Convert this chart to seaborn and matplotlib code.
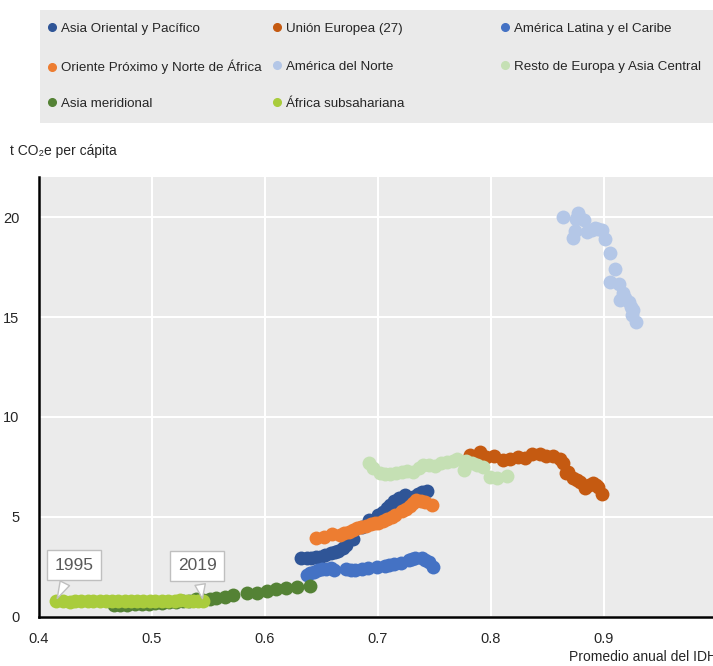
import numpy as np
import pandas as pd
import seaborn as sns
import matplotlib
matplotlib.use("Agg")
import matplotlib.pyplot as plt
from matplotlib.patches import Rectangle
from matplotlib.lines import Line2D

# Datos (1995-2019), IDH medio y t CO2e per capita
asia_or_x = [0.632, 0.637, 0.641, 0.645, 0.649, 0.653, 0.658, 0.662, 0.665, 0.669, 0.672, 0.678, 0.686,
             0.692, 0.700, 0.704, 0.708, 0.711, 0.714, 0.719, 0.724, 0.731, 0.735, 0.739, 0.743]
asia_or_y = [2.93, 2.95, 2.97, 3.00, 3.02, 3.10, 3.18, 3.25, 3.30, 3.45, 3.60, 3.88, 4.52,
             4.85, 5.10, 5.25, 5.43, 5.60, 5.80, 5.95, 6.10, 6.00, 6.15, 6.27, 6.30]

ue_x = [0.781, 0.790, 0.796, 0.803, 0.811, 0.817, 0.824, 0.830, 0.836, 0.843, 0.849, 0.855, 0.861,
        0.864, 0.866, 0.868, 0.873, 0.876, 0.879, 0.883, 0.887, 0.890, 0.893, 0.895, 0.898]
ue_y = [8.10, 8.27, 8.02, 8.05, 7.85, 7.88, 8.02, 7.93, 8.15, 8.13, 8.05, 8.05, 7.88,
        7.68, 7.18, 7.27, 6.93, 6.85, 6.77, 6.43, 6.60, 6.68, 6.60, 6.52, 6.13]

latam_x = [0.637, 0.640, 0.643, 0.647, 0.650, 0.654, 0.658, 0.661, 0.672, 0.676, 0.680, 0.686, 0.691,
           0.699, 0.706, 0.710, 0.714, 0.720, 0.727, 0.730, 0.733, 0.739, 0.742, 0.745, 0.749]
latam_y = [2.10, 2.18, 2.27, 2.33, 2.38, 2.42, 2.43, 2.35, 2.38, 2.36, 2.35, 2.38, 2.47,
           2.52, 2.55, 2.58, 2.63, 2.72, 2.85, 2.90, 2.93, 2.93, 2.85, 2.77, 2.50]

mena_x = [0.645, 0.652, 0.659, 0.666, 0.670, 0.674, 0.678, 0.681, 0.685, 0.689, 0.694, 0.697, 0.700,
          0.704, 0.708, 0.712, 0.715, 0.721, 0.725, 0.728, 0.731, 0.734, 0.738, 0.742, 0.748]
mena_y = [3.97, 4.02, 4.13, 4.10, 4.18, 4.27, 4.35, 4.43, 4.50, 4.55, 4.63, 4.68, 4.72,
          4.80, 4.88, 5.00, 5.10, 5.30, 5.42, 5.55, 5.70, 5.85, 5.80, 5.77, 5.60]

nam_x = [0.864, 0.875, 0.877, 0.878, 0.882, 0.874, 0.873, 0.885, 0.889, 0.892, 0.895, 0.898, 0.901,
         0.905, 0.910, 0.905, 0.913, 0.917, 0.914, 0.919, 0.922, 0.924, 0.926, 0.925, 0.928]
nam_y = [20.0, 19.9, 20.2, 20.0, 19.85, 19.3, 18.93, 19.27, 19.35, 19.43, 19.40, 19.35, 18.88,
         18.2, 17.38, 16.77, 16.63, 16.18, 15.85, 15.95, 15.77, 15.50, 15.35, 15.10, 14.77]

resto_x = [0.692, 0.696, 0.702, 0.706, 0.711, 0.716, 0.721, 0.726, 0.731, 0.736, 0.740, 0.745, 0.750,
           0.756, 0.761, 0.766, 0.770, 0.776, 0.778, 0.783, 0.788, 0.793, 0.799, 0.805, 0.814]
resto_y = [7.72, 7.43, 7.18, 7.15, 7.13, 7.20, 7.27, 7.28, 7.27, 7.45, 7.60, 7.58, 7.55,
           7.68, 7.77, 7.82, 7.88, 7.35, 7.80, 7.68, 7.60, 7.52, 7.00, 6.93, 7.05]

asia_mer_x = [0.466, 0.472, 0.478, 0.485, 0.491, 0.497, 0.503, 0.509, 0.515, 0.521, 0.527, 0.533, 0.539,
              0.545, 0.551, 0.557, 0.565, 0.572, 0.584, 0.593, 0.602, 0.610, 0.619, 0.628, 0.640]
asia_mer_y = [0.58, 0.60, 0.62, 0.64, 0.65, 0.67, 0.69, 0.71, 0.73, 0.75, 0.78, 0.82, 0.88,
              0.86, 0.90, 0.93, 1.00, 1.10, 1.18, 1.22, 1.30, 1.38, 1.43, 1.48, 1.53]

africa_x = [0.415, 0.421, 0.427, 0.432, 0.437, 0.443, 0.448, 0.454, 0.459, 0.465, 0.470, 0.476, 0.481,
            0.487, 0.492, 0.498, 0.503, 0.509, 0.514, 0.520, 0.525, 0.531, 0.536, 0.541, 0.545]
africa_y = [0.80, 0.78, 0.77, 0.79, 0.80, 0.81, 0.82, 0.80, 0.79, 0.81, 0.80, 0.78, 0.79,
            0.80, 0.79, 0.80, 0.81, 0.82, 0.80, 0.82, 0.83, 0.80, 0.79, 0.78, 0.78]

regiones = ["Asia Oriental y Pacífico", "Unión Europea (27)", "América Latina y el Caribe",
            "Oriente Próximo y Norte de África", "América del Norte", "Resto de Europa y Asia Central",
            "Asia meridional", "África subsahariana"]
colores = ["#2f5597", "#c55a11", "#4472c4", "#ed7d31", "#b4c7e7", "#c5e0b4", "#548235", "#a9cc3c"]

series_x = [asia_or_x, ue_x, latam_x, mena_x, nam_x, resto_x, asia_mer_x, africa_x]
series_y = [asia_or_y, ue_y, latam_y, mena_y, nam_y, resto_y, asia_mer_y, africa_y]

df = pd.concat([pd.DataFrame({"idh": xs, "co2": ys, "region": r})
                for xs, ys, r in zip(series_x, series_y, regiones)], ignore_index=True)

sns.set_style("white")
plt.rcParams["font.family"] = ["Liberation Sans Narrow", "Liberation Sans", "DejaVu Sans"]
plt.rcParams["font.size"] = 10

fig = plt.figure(figsize=(7.13, 6.66), dpi=100)
ax = fig.add_axes([39 / 713, 49 / 666, 678 / 713, 440 / 666])
ax.set_facecolor("#ebebeb")

# dibujar en orden de leyenda para que las capas coincidan
for r, c in zip(regiones, colores):
    sub = df[df.region == r]
    sns.scatterplot(data=sub, x="idh", y="co2", color=c, s=100, linewidth=0, ax=ax, zorder=3)

ax.set_xlim(0.4, 1.0)
ax.set_ylim(0, 22)
ax.set_xticks([0.4, 0.5, 0.6, 0.7, 0.8, 0.9, 1.0])
ax.set_xticklabels(["0.4", "0.5", "0.6", "0.7", "0.8", "0.9", ""])
ax.set_yticks([0, 5, 10, 15, 20])
ax.grid(True, color="white", linewidth=1.5, zorder=0)
ax.set_axisbelow(True)
for s in ["top", "right"]:
    ax.spines[s].set_visible(False)
for s in ["left", "bottom"]:
    ax.spines[s].set_color("black")
    ax.spines[s].set_linewidth(1.8)
ax.tick_params(axis="x", direction="in", length=4, width=1, pad=11, labelsize=10.5)
ax.tick_params(axis="y", length=0, pad=14, labelsize=10.5)
ax.set_xlabel("Promedio anual del IDH", loc="right", fontsize=10, labelpad=3)
ax.set_ylabel("")
fig.text(10 / 713, 1 - 151 / 666, "t CO₂e per cápita", fontsize=10, va="center", ha="left")

# etiquetas de inicio y fin
box = dict(boxstyle="square,pad=0.45", fc="white", ec="#bfbfbf", lw=1)
arrow = dict(arrowstyle="wedge,tail_width=0.6,shrink_factor=0.5", fc="white", ec="#bfbfbf", lw=1)
ax.annotate("1995", xy=(africa_x[0], africa_y[0]), xytext=(0.431, 2.6), ha="center", va="center",
            fontsize=12.5, color="#595959", bbox=box, arrowprops=arrow, zorder=5)
ax.annotate("2019", xy=(africa_x[-1], africa_y[-1]), xytext=(0.54, 2.55), ha="center", va="center",
            fontsize=12.5, color="#595959", bbox=box, arrowprops=arrow, zorder=5)

# leyenda sobre un recuadro gris, una entrada por celda para alinear filas
fig.patches.append(Rectangle((40 / 713, 1 - 123 / 666), 673 / 713, 113 / 666,
                             transform=fig.transFigure, fc="#eaeaea", ec="none", zorder=0))
col_x = [48, 273, 501]
row_y = [29, 67, 104]
for i, (r, c) in enumerate(zip(regiones, colores)):
    h = Line2D([], [], marker="o", ls="", color=c, markersize=5.5)
    fig.legend([h], [r], loc="center left",
               bbox_to_anchor=(col_x[i % 3] / 713, 1 - row_y[i // 3] / 666), frameon=False,
               fontsize=9.6, handlelength=0.6, handletextpad=0.35, borderaxespad=0, borderpad=0)

fig.savefig("out.png", dpi=100)
